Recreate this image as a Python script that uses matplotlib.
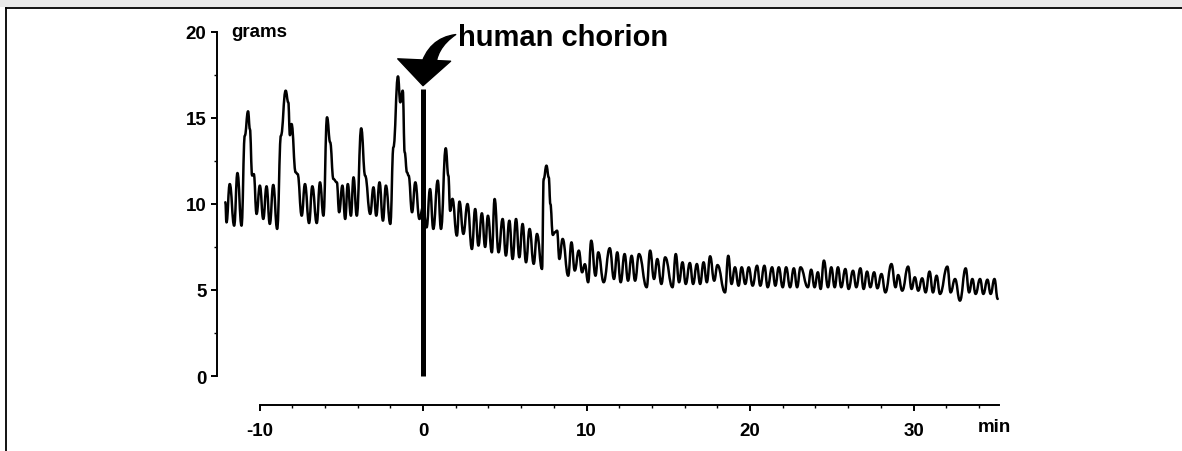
import matplotlib
matplotlib.use("Agg")
import matplotlib.pyplot as plt
from matplotlib.patches import Rectangle, PathPatch
from matplotlib.lines import Line2D
from matplotlib.path import Path

# Isometric tension trace: local maxima / minima of the contractions (min, grams)
time_min = [
    -12.09, -12.02, -11.82, -11.55, -11.35, -11.10, -10.90, -10.70, -10.59, -10.45,
    -10.35, -10.18, -9.98, -9.77, -9.57, -9.37, -9.16, -8.92, -8.69, -8.40,
    -8.24, -8.14, -8.04, -7.79, -7.67, -7.42, -7.22, -6.97, -6.77, -6.50,
    -6.30, -6.09, -5.87, -5.68, -5.48, -5.27, -5.13, -4.93, -4.76, -4.60,
    -4.41, -4.25, -4.05, -3.78, -3.54, -3.23, -3.03, -2.86, -2.66, -2.45,
    -2.27, -2.00, -1.81, -1.53, -1.39, -1.24, -1.12, -0.98, -0.88, -0.67,
    -0.47, -0.22,
    0.00, 0.22, 0.43, 0.63, 0.90, 1.10, 1.39, 1.55, 1.66, 1.80,
    2.07, 2.23, 2.47, 2.72, 2.99, 3.19, 3.39, 3.60, 3.80, 3.97,
    4.21, 4.38, 4.62, 4.87, 5.07, 5.28, 5.48, 5.69, 5.89, 6.09,
    6.30, 6.52, 6.77, 6.97, 7.28, 7.38, 7.55, 7.69, 7.79, 7.94,
    8.06, 8.20, 8.34, 8.54, 8.88, 9.08, 9.28, 9.53, 9.73, 9.90,
    10.10, 10.29, 10.55, 10.72, 11.05, 11.42,
    11.68, 11.88, 12.09, 12.33, 12.54, 12.76, 12.97, 13.21, 13.68, 13.89,
    14.13, 14.33, 14.58, 14.81, 15.26, 15.46, 15.66, 15.87, 16.07, 16.32,
    16.52, 16.75, 16.95, 17.16, 17.36, 17.56, 17.81, 18.01, 18.47, 18.67,
    18.87, 19.08, 19.30, 19.49, 19.71, 19.92, 20.16, 20.43, 20.63, 20.88,
    21.08, 21.35, 21.55, 21.76, 22.00, 22.21, 22.45, 22.68, 22.88, 23.09,
    23.54, 23.74, 23.95, 24.15, 24.32, 24.52, 24.77, 24.97, 25.18, 25.38,
    25.58, 25.83, 26.03, 26.30, 26.50, 26.75, 26.95, 27.16, 27.36, 27.59,
    27.79, 28.04, 28.28, 28.65, 28.90, 29.06, 29.31, 29.67, 29.88, 30.08,
    30.29, 30.53, 30.74, 30.98, 31.19, 31.41, 31.62, 32.07, 32.27, 32.54,
    32.84, 33.19, 33.40, 33.60, 33.80, 34.07, 34.27, 34.52, 34.72, 34.95,
    35.15,
]
tension_g = [
    10.10, 8.93, 11.16, 8.74, 11.80, 8.74, 13.97, 15.39, 14.36, 11.65,
    11.74, 9.42, 11.07, 9.13, 11.03, 8.84, 11.11, 8.55, 13.97, 16.59,
    15.91, 14.00, 14.65, 11.84, 11.74, 9.32, 11.16, 8.89, 11.03, 8.89,
    11.26, 9.32, 15.04, 13.59, 11.45, 11.26, 9.52, 11.07, 9.13, 11.16,
    9.32, 11.55, 9.32, 14.40, 11.65, 9.42, 10.97, 9.32, 11.26, 9.03,
    11.07, 8.84, 13.30, 17.42, 15.91, 16.59, 13.00, 11.84, 11.65, 9.52,
    11.26, 9.13,
    9.81, 8.64, 10.87, 8.55, 11.36, 8.55, 13.24, 11.65, 9.60, 10.30,
    8.16, 10.14, 8.26, 10.00, 7.38, 9.71, 7.58, 9.46, 7.50, 9.32,
    7.19, 10.29, 7.19, 9.13, 7.00, 9.03, 6.80, 9.13, 6.90, 8.84,
    6.61, 8.55, 6.52, 8.26, 6.22, 11.45, 12.23, 11.55, 10.00, 8.20,
    8.35, 8.45, 6.80, 7.97, 5.83, 7.77, 6.13, 7.29, 6.03, 6.50,
    5.45, 7.87, 5.83, 7.19, 5.45, 7.43,
    5.64, 7.19, 5.45, 7.09, 5.54, 6.99, 5.54, 7.09, 5.16, 7.29,
    5.64, 6.80, 5.35, 6.90, 5.16, 7.09, 5.45, 6.61, 5.35, 6.57,
    5.35, 6.51, 5.35, 6.61, 5.45, 6.96, 5.54, 6.45, 4.86, 6.99,
    5.35, 6.32, 5.25, 6.32, 5.35, 6.32, 5.25, 6.41, 5.25, 6.41,
    5.16, 6.32, 5.25, 6.32, 5.16, 6.32, 5.16, 6.26, 5.16, 6.32,
    5.16, 6.18, 5.16, 6.03, 5.06, 6.71, 5.16, 6.32, 5.16, 6.32,
    5.16, 6.22, 5.06, 6.12, 5.16, 6.26, 5.06, 6.07, 5.16, 6.03,
    5.10, 5.93, 4.86, 6.51, 5.16, 5.87, 4.96, 6.36, 5.06, 5.74,
    4.96, 5.68, 4.86, 6.07, 4.86, 5.83, 4.77, 6.36, 4.86, 5.64,
    4.38, 6.26, 4.86, 5.64, 4.77, 5.64, 4.77, 5.60, 4.77, 5.64,
    4.48,
]

# Application marker
stimulus_time = 0.0
stimulus_top = 16.7
stimulus_label = "human chorion"

y_major = [0, 5, 10, 15, 20]
y_minor = [2.5, 7.5, 12.5, 17.5]
x_major = [-10, 0, 10, 20, 30]
x_minor = [-8, -6, -4, -2, 2, 4, 6, 8, 12, 14, 16, 18, 22, 24, 26, 28, 32, 34]
y_unit = "grams"
x_unit = "min"

FONT = ["Liberation Sans", "DejaVu Sans"]
plt.rcParams["font.family"] = FONT
plt.rcParams["font.weight"] = "bold"
plt.rcParams["axes.unicode_minus"] = False

W, H, DPI = 1182, 452, 100
fig = plt.figure(figsize=(W / DPI, H / DPI), dpi=DPI)
fig.patch.set_facecolor("white")

# page shadow strip and frame
fig.patches.append(Rectangle((0, 1 - 8 / H), 1, 8 / H, transform=fig.transFigure,
                             facecolor="#e9e9e9", edgecolor="none", zorder=0))
fig.lines.append(Line2D([6 / W, 1], [1 - 9 / H, 1 - 9 / H], transform=fig.transFigure,
                        color="black", lw=1.3))
fig.lines.append(Line2D([6 / W, 6 / W], [0, 1 - 9 / H], transform=fig.transFigure,
                        color="black", lw=1.3))

ax = fig.add_axes([217 / W, 46 / H, 783 / W, 376 / H])
ax.set_xlim(-12.60, 35.29)
ax.set_ylim(-1.686, 20.174)
ax.patch.set_alpha(0)


def smooth_trace_path(xs, ys):
    """Chain of cubic segments with flat tangents at every recorded extremum."""
    verts = [(xs[0], ys[0])]
    codes = [Path.MOVETO]
    for (x0, y0), (x1, y1) in zip(zip(xs[:-1], ys[:-1]), zip(xs[1:], ys[1:])):
        h = (x1 - x0) * 0.45
        verts += [(x0 + h, y0), (x1 - h, y1), (x1, y1)]
        codes += [Path.CURVE4] * 3
    return Path(verts, codes)


trace = PathPatch(smooth_trace_path(time_min, tension_g), facecolor="none",
                  edgecolor="black", lw=1.8, joinstyle="round", capstyle="round",
                  clip_on=False, zorder=3)
ax.add_patch(trace)
ax.vlines(stimulus_time, 0, stimulus_top, color="black", lw=3.6, zorder=4)

for s in ("top", "right"):
    ax.spines[s].set_visible(False)
for s in ("left", "bottom"):
    ax.spines[s].set_linewidth(1.4)
ax.spines["left"].set_bounds(0, 20)
ax.spines["bottom"].set_bounds(-10, 35.2)

ax.set_yticks(y_major)
ax.set_yticks(y_minor, minor=True)
ax.set_xticks(x_major)
ax.set_xticks(x_minor, minor=True)
ax.tick_params(which="major", direction="out", length=4.5, width=1.4,
               labelsize=13.5, colors="black")
ax.tick_params(which="minor", direction="out", length=2.3, width=1.0)
ax.tick_params(axis="y", which="major", pad=3)
ax.tick_params(axis="x", which="major", pad=8)
for lab in ax.get_xticklabels() + ax.get_yticklabels():
    lab.set_fontweight("bold")

ax.text(-11.75, 20.0, y_unit, fontsize=13.5, fontweight="bold",
        ha="left", va="center", clip_on=False)
ax.text(33.9, -2.95, x_unit, fontsize=13.5, fontweight="bold",
        ha="left", va="center", clip_on=False)

# label with a curved, tapering arrow whose head points down onto the marker
ax.text(2.15, 19.7, stimulus_label, fontsize=21, fontweight="bold",
        ha="left", va="center", clip_on=False)
ax.annotate("", xy=(2.0, 19.85), xytext=(0.3, 17.85), annotation_clip=False,
            arrowprops=dict(arrowstyle="wedge,tail_width=0.4,shrink_factor=0.6",
                            connectionstyle="arc3,rad=-0.3", color="black",
                            mutation_scale=28, shrinkA=0, shrinkB=0))
ax.annotate("", xy=(stimulus_time, 16.88), xytext=(0.06, 18.15), annotation_clip=False,
            arrowprops=dict(arrowstyle="simple,head_width=1.36,head_length=0.66,tail_width=0.34",
                            color="black", mutation_scale=28, shrinkA=0, shrinkB=0))

fig.savefig("out.png", dpi=DPI, facecolor="white")
